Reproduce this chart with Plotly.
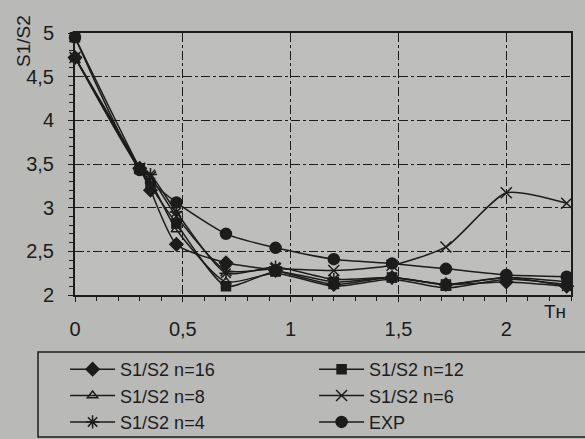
import plotly.graph_objects as go

x_all = [0, 0.30, 0.35, 0.47, 0.70, 0.93, 1.20, 1.47, 1.72, 2.00, 2.28]
x_exp = [0, 0.30, 0.47, 0.70, 0.93, 1.20, 1.47, 1.72, 2.00, 2.28]

n16 = [4.72, 3.45, 3.20, 2.58, 2.37, 2.28, 2.12, 2.20, 2.12, 2.15, 2.10]
n12 = [4.95, 3.45, 3.25, 2.82, 2.10, 2.27, 2.15, 2.20, 2.12, 2.20, 2.15]
n8 = [4.72, 3.45, 3.30, 2.75, 2.15, 2.25, 2.10, 2.18, 2.08, 2.18, 2.12]
n6 = [4.72, 3.45, 3.35, 2.90, 2.28, 2.30, 2.28, 2.34, 2.55, 3.17, 3.05]
n4 = [4.72, 3.45, 3.38, 2.95, 2.25, 2.32, 2.18, 2.20, 2.12, 2.20, 2.10]
exp = [4.95, 3.43, 3.06, 2.70, 2.54, 2.41, 2.36, 2.30, 2.23, 2.21]

names = ["S1/S2 n=16", "S1/S2 n=12", "S1/S2 n=8", "S1/S2 n=6", "S1/S2 n=4", "EXP"]
series = [n16, n12, n8, n6, n4, exp]
xs = [x_all, x_all, x_all, x_all, x_all, x_exp]
symbols = ["diamond", "square", "triangle-up-open", "x-thin-open", "asterisk-open", "circle"]
sizes = [10, 9, 9, 11, 11, 11]

INK = "#1c1c1c"
PAPER = "#b9b9b7"
fig = go.Figure()
for nm, xv, yv, sym, sz in zip(names, xs, series, symbols, sizes):
    fig.add_trace(go.Scatter(
        x=xv, y=yv, name=nm, mode="lines+markers",
        line=dict(color=INK, width=1.5, shape="spline", smoothing=0.6),
        marker=dict(symbol=sym, size=sz, color=INK, line=dict(color=INK, width=1.5)),
        cliponaxis=False,
    ))

fig.update_layout(
    width=585, height=439,
    margin=dict(l=75, r=14, t=33, b=144, autoexpand=False),
    paper_bgcolor=PAPER,
    plot_bgcolor="#bebebc",
    separators=", ",
    font=dict(family="Liberation Sans, Arial, sans-serif", size=20, color=INK),
    showlegend=True,
    legend=dict(
        orientation="h", x=-0.02, y=-0.2135, xanchor="left", yanchor="top",
        entrywidth=189, entrywidthmode="pixels",
        borderwidth=0, bgcolor="rgba(0,0,0,0)",
        font=dict(size=18, color=INK), itemwidth=45, tracegroupgap=0,
    ),
    shapes=[
        dict(type="rect", xref="paper", yref="paper",
             x0=-0.0746, x1=1.10, y0=-0.542, y1=-0.2176,
             line=dict(color=INK, width=1.5), fillcolor="rgba(0,0,0,0)", layer="below"),
    ],
    annotations=[
        dict(text="S1/S2", textangle=-90, x=-0.105, y=1.076, xref="paper", yref="paper",
             xanchor="center", yanchor="top",
             showarrow=False, font=dict(size=19, color=INK)),
        dict(text="Тн", x=0.994, y=-0.11, xref="paper", yref="paper",
             showarrow=False, font=dict(size=19, color=INK)),
    ],
)
fig.update_xaxes(
    range=[0, 2.3], dtick=0.5, tick0=0,
    showline=True, linecolor=INK, linewidth=2, mirror=True,
    showgrid=True, gridcolor=INK, griddash="dashdot", gridwidth=1,
    ticks="outside", ticklen=5, tickcolor=INK, ticklabelstandoff=10,
    minor=dict(dtick=0.1, ticks="outside", ticklen=4, tickcolor=INK, showgrid=False),
    zeroline=False,
)
fig.update_yaxes(
    range=[2, 5], dtick=0.5, tick0=0,
    showline=True, linecolor=INK, linewidth=2, mirror=True,
    showgrid=True, gridcolor=INK, griddash="dashdot", gridwidth=1,
    ticks="outside", ticklen=5, tickcolor=INK, ticklabelstandoff=10,
    minor=dict(dtick=0.1, ticks="outside", ticklen=4, tickcolor=INK, showgrid=False),
    zeroline=False,
)
fig.write_html("out.html")
